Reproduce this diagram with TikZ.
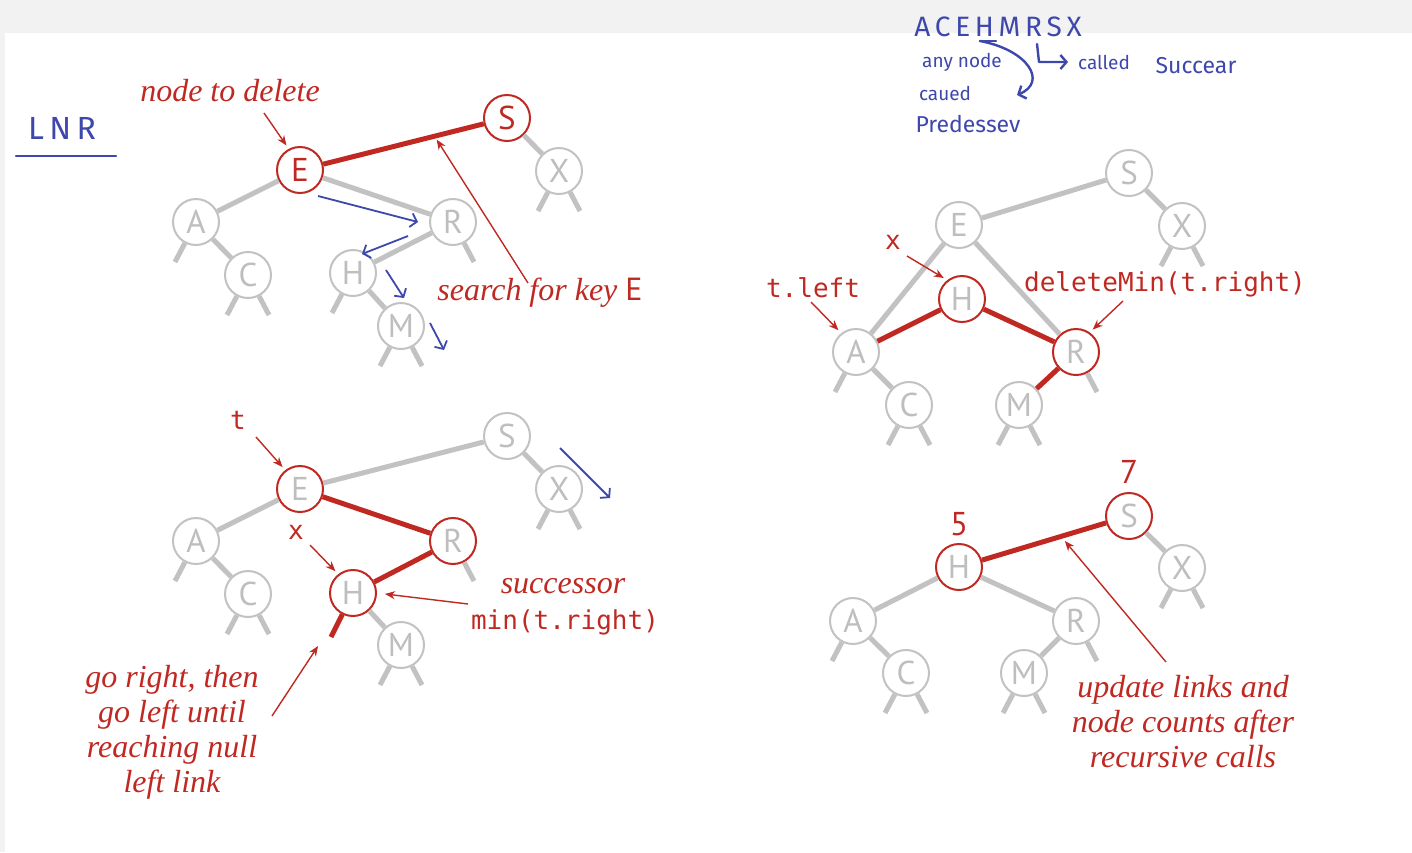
\documentclass[tikz,border=0pt]{standalone}
\usepackage{fontspec}
\usetikzlibrary{arrows.meta,calc}

\newfontfamily\keyfamily{PT Sans}
\newfontfamily\codefamily{DejaVu Sans Mono}
\newfontfamily\handfamily{Fira Sans}
\newfontfamily\notefamily{Liberation Serif}

\definecolor{deepred}{RGB}{192,40,34}
\definecolor{linkgray}{RGB}{194,194,194}
\definecolor{keygray}{RGB}{190,190,190}
\definecolor{inkblue}{RGB}{62,72,172}
\definecolor{pagegray}{RGB}{242,242,242}

\newcommand\keyfont{\keyfamily\fontsize{16.5}{18}\selectfont}
\newcommand\notefont{\notefamily\itshape\fontsize{16}{17.5}\selectfont}
\newcommand\codefont{\codefamily\fontsize{13}{15}\selectfont}
\newcommand\handfont{\handfamily\fontsize{9.5}{11}\selectfont}

\tikzset{
  bstnode/.style={circle, draw=linkgray, line width=1pt, fill=white,
    minimum size=23pt, inner sep=0pt, text=keygray, font=\keyfont},
  hilite/.style={draw=deepred},
  redkey/.style={draw=deepred, text=deepred},
  link/.style={draw=linkgray, line width=2.5pt},
  redlink/.style={draw=deepred, line width=2.5pt},
  note/.style={text=deepred, font=\notefont, inner sep=1pt},
  code/.style={text=deepred, font=\codefont, inner sep=1pt},
  count/.style={text=deepred, font=\keyfont, inner sep=1pt},
  pointer/.style={draw=deepred, line width=0.7pt, -{Stealth[length=5pt,width=4pt]}},
  trace/.style={draw=inkblue, line width=0.9pt, -{Straight Barb[length=3pt,width=7pt]}},
  hand/.style={text=inkblue, font=\handfont, inner sep=0pt},
  scribble/.style={draw=inkblue, line width=1.2pt, line cap=round, line join=round},
}

\begin{document}
\begin{tikzpicture}[x=0.5pt,y=-0.5pt]
  % page
  \fill[pagegray] (0,0) rectangle (1412,852);
  \fill[white] (5,33) rectangle (1412,852);
  \useasboundingbox (0,0) rectangle (1412,852);

  % search for the key E
  \node[bstnode, redkey] (S1) at (507,118) {S};
  \node[bstnode, redkey] (E1) at (300,170) {E};
  \node[bstnode] (X1) at (559,171) {X};
  \node[bstnode] (A1) at (196,222) {A};
  \node[bstnode] (R1) at (453,222) {R};
  \node[bstnode] (C1) at (248,275) {C};
  \node[bstnode] (H1) at (353,273) {H};
  \node[bstnode] (M1) at (401,326) {M};
  \draw[redlink] (E1) -- (S1);
  \draw[link] (E1) -- (A1);
  \draw[link] (E1) -- (R1);
  \draw[link] (S1) -- (X1);
  \draw[link] (A1) -- (C1);
  \draw[link] (R1) -- (H1);
  \draw[link] (H1) -- (M1);
  \foreach \n in {A1,C1,X1,H1,M1} \draw[link] (\n) -- ++(-21,40);
  \foreach \n in {C1,X1,R1,M1} \draw[link] (\n) -- ++(21,40);

  \node[note] (del) at (230,91) {node to delete};
  \coordinate (delTail) at (264,113);
  \draw[pointer, shorten >=2pt] (delTail) -- (E1.118);
  \node[note] (search) at (540,293) {search for key {\upshape\keyfamily E}};
  \coordinate (searchTail) at (528,283);
  \draw[pointer, shorten >=2pt] (searchTail) -- ($(E1)!0.65!(S1)$);

  % the path walked by the search
  \coordinate (w1) at (318,196); \coordinate (w2) at (418,222);
  \coordinate (w3) at (408,236); \coordinate (w4) at (362,254);
  \coordinate (w5) at (386,270); \coordinate (w6) at (404,298);
  \coordinate (w7) at (430,323); \coordinate (w8) at (444,350);
  \draw[trace] (w1) -- (w2);
  \draw[trace] (w3) -- (w4);
  \draw[trace] (w5) -- (w6);
  \draw[trace] (w7) -- (w8);

  % successor of t
  \node[bstnode] (S2) at (507,436) {S};
  \node[bstnode, hilite] (E2) at (300,489) {E};
  \node[bstnode] (X2) at (559,489) {X};
  \node[bstnode] (A2) at (196,541) {A};
  \node[bstnode, hilite] (R2) at (453,541) {R};
  \node[bstnode] (C2) at (248,594) {C};
  \node[bstnode, hilite] (H2) at (353,593) {H};
  \node[bstnode] (M2) at (401,645) {M};
  \draw[link] (E2) -- (S2);
  \draw[link] (E2) -- (A2);
  \draw[link] (S2) -- (X2);
  \draw[link] (A2) -- (C2);
  \draw[link] (H2) -- (M2);
  \draw[redlink] (E2) -- (R2);
  \draw[redlink] (R2) -- (H2);
  \draw[redlink] (H2) -- ++(-22,44);
  \foreach \n in {A2,C2,X2,M2} \draw[link] (\n) -- ++(-21,40);
  \foreach \n in {C2,X2,R2,M2} \draw[link] (\n) -- ++(21,40);

  \node[code] (t2) at (238,420) {t};
  \coordinate (t2Tail) at (256,437);
  \draw[pointer, shorten >=2pt] (t2Tail) -- (E2.128);
  \node[code] (x2) at (296,532) {x};
  \coordinate (x2Tail) at (310,545);
  \draw[pointer, shorten >=2pt] (x2Tail) -- (H2.128);
  \node[note] (succ) at (563,586) {successor};
  \node[code] (minr) at (565,622) {min(t.right)};
  \coordinate (succTail) at (468,604);
  \draw[pointer, shorten >=4pt] (succTail) -- (H2.east);
  \node[note, align=center] (goleft) at (172,732)
    {go right, then\\go left until\\reaching null\\left link};
  \coordinate (goTail) at (272,716);
  \coordinate (goHead) at (318,646);
  \draw[pointer] (goTail) -- (goHead);
  \coordinate (w9) at (560,448); \coordinate (w10) at (610,498);
  \draw[trace] (w9) -- (w10);

  % deleteMin on the right subtree
  \node[bstnode] (S3) at (1129,173) {S};
  \node[bstnode] (E3) at (959,225) {E};
  \node[bstnode] (X3) at (1182,226) {X};
  \node[bstnode, hilite] (H3) at (962,299) {H};
  \node[bstnode] (A3) at (856,352) {A};
  \node[bstnode, hilite] (R3) at (1076,352) {R};
  \node[bstnode] (C3) at (909,405) {C};
  \node[bstnode] (M3) at (1019,405) {M};
  \draw[link] (E3) -- (S3);
  \draw[link] (S3) -- (X3);
  \draw[link] (E3) -- (A3);
  \draw[link] (E3) -- (R3);
  \draw[link] (A3) -- (C3);
  \draw[redlink] (A3) -- (H3);
  \draw[redlink] (H3) -- (R3);
  \draw[redlink] (R3) -- (M3);
  \foreach \n in {A3,C3,X3,M3} \draw[link] (\n) -- ++(-21,40);
  \foreach \n in {C3,X3,R3,M3} \draw[link] (\n) -- ++(21,40);

  \node[code] (x3) at (893,242) {x};
  \coordinate (x3Tail) at (907,256);
  \draw[pointer, shorten >=2pt] (x3Tail) -- (H3.128);
  \node[code] (tleft) at (813,288) {t.left};
  \coordinate (tlTail) at (811,302);
  \draw[pointer, shorten >=2pt] (tlTail) -- (A3.128);
  \node[code] (dmin) at (1165,284) {deleteMin(t.right)};
  \coordinate (dmTail) at (1123,301);
  \draw[pointer, shorten >=2pt] (dmTail) -- (R3.55);

  % links and counts fixed up
  \node[bstnode, hilite] (S4) at (1129,516) {S};
  \node[bstnode, hilite] (H4) at (959,567) {H};
  \node[bstnode] (X4) at (1182,568) {X};
  \node[bstnode] (A4) at (853,621) {A};
  \node[bstnode] (R4) at (1076,621) {R};
  \node[bstnode] (C4) at (906,673) {C};
  \node[bstnode] (M4) at (1024,673) {M};
  \draw[redlink] (H4) -- (S4);
  \draw[link] (H4) -- (A4);
  \draw[link] (H4) -- (R4);
  \draw[link] (S4) -- (X4);
  \draw[link] (A4) -- (C4);
  \draw[link] (R4) -- (M4);
  \foreach \n in {A4,C4,X4,M4} \draw[link] (\n) -- ++(-21,40);
  \foreach \n in {C4,X4,R4,M4} \draw[link] (\n) -- ++(21,40);

  \node[count] (n7) at (1129,472) {7};
  \node[count] (n5) at (959,524) {5};
  \node[note, align=center] (upd) at (1183,722)
    {update links and\\node counts after\\recursive calls};
  \coordinate (updTail) at (1166,662);
  \draw[pointer, shorten >=3pt] (updTail) -- ($(H4)!0.6!(S4)$);

  % scribbles in blue
  \node[hand, font=\handfamily\fontsize{16}{18}\selectfont] (lnr) at (62,128) {L\,N\,R};
  \coordinate (ul1) at (16,156); \coordinate (ul2) at (116,156);
  \draw[scribble] (ul1) -- (ul2);

  \node[hand, font=\handfamily\fontsize{14}{16}\selectfont] (keys) at (998,27)
    {A\,C\,E\,H\,M\,R\,S\,X};
  \coordinate (hbarL) at (980,41); \coordinate (hbarR) at (996,41);
  \coordinate (predHead) at (1017,95);
  \coordinate (sucTop) at (1037,44); \coordinate (sucCorner) at (1039,62);
  \coordinate (sucHead) at (1068,62);
  \draw[scribble] (hbarL) -- (hbarR);
  \draw[scribble, -{Straight Barb[length=3pt,width=7pt]}] (hbarL)
    .. controls (1028,50) and (1048,82) .. (predHead);
  \draw[scribble, -{Straight Barb[length=3pt,width=7pt]}]
    (sucTop) -- (sucCorner) -- (sucHead);
  \node[hand] (anynode) at (962,62) {any node};
  \node[hand] (caued) at (945,93) {caued};
  \node[hand, font=\handfamily\fontsize{11.5}{13}\selectfont] (pred) at (968,124) {Predessev};
  \node[hand] (called) at (1104,62) {called};
  \node[hand, font=\handfamily\fontsize{11.5}{13}\selectfont] (succear) at (1196,66) {Succear};
\end{tikzpicture}
\end{document}
